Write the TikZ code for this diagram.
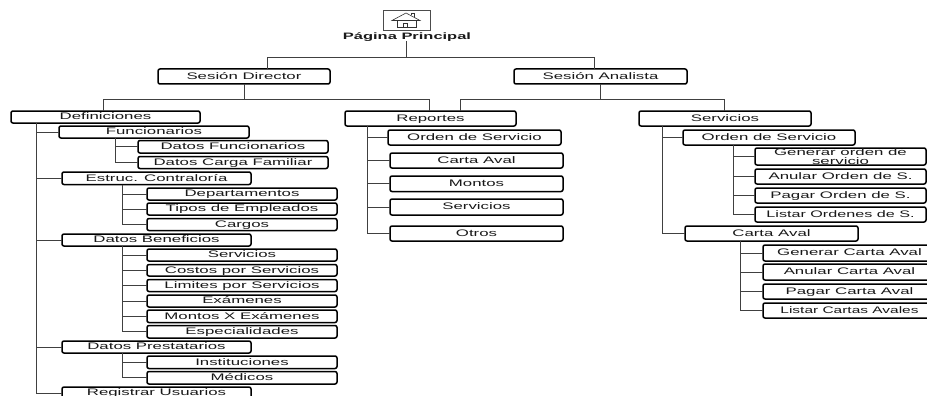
\documentclass[tikz,border=0pt]{standalone}
\usepackage{fontspec}
\setmainfont[FakeStretch=1.77]{Liberation Sans}
\tikzset{
  x=1pt,y=-1pt,
  box/.style={draw=black,line width=1.5pt,rounded corners=2pt,fill=white,inner sep=0pt,outer sep=0pt,
    font=\fontsize{9.5}{9.2}\selectfont,align=center,text=black!90,text height=7pt,text depth=1.5pt},
  twoline/.style={text height=,text depth=},
  link/.style={draw=black!75,line width=0.8pt},
  iconline/.style={draw=black!80,line width=0.6pt}
}
\newcommand{\bx}[7][]{\node[box,#1,minimum width={(#5-#3)*1pt},minimum height={(#6-#4)*1pt}] (#2) at ({(#3+#5)/2},{(#4+#6)/2}) {#7};}
\newcommand{\tw}[3]{\draw[link] ([xshift=#2pt]#1.south west) |- (#3.west);}
\begin{document}
\begin{tikzpicture}
\useasboundingbox (0,0) rectangle (927,396);
\clip (0,0) rectangle (927,396);
% home
\node[draw=black!70,line width=0.6pt,minimum width=47pt,minimum height=20pt,inner sep=0pt,outer sep=0pt] (home) at (406.5,20) {};
\draw[iconline] (392,20.5) -- (406,13) -- (420,20.5) -- cycle;
\draw[iconline] (397,20.5) -- (397,27) -- (416,27) -- (416,20.5);
\draw[iconline] (403,27) -- (403,23.5) -- (407,23.5) -- (407,27);
\draw[iconline] (411,15.5) -- (411,13.5) -- (414,13.5) -- (414,17.5);
\node[font=\fontsize{9.3}{10}\bfseries\selectfont,inner sep=0pt,outer sep=0pt,text=black!90] (ppal) at (407,37) {Página Principal};
\coordinate (hub) at (406.5,57);
% level 1
\bx{sd}{158}{69}{330}{84}{Sesión Director}
\bx{sa}{514}{69}{687}{84}{Sesión Analista}
% level 2
\bx{def}{11}{111}{200}{123}{Definiciones}
\bx{rep}{345}{111}{516}{126}{Reportes}
\bx{ser}{639}{111}{811}{126}{Servicios}
% definiciones
\bx{fun}{59}{126}{249}{138}{Funcionarios}
\bx{df}{138}{140.5}{328}{153}{Datos Funcionarios}
\bx{dc}{138}{156.5}{328}{168.5}{Datos Carga Familiar}
\bx{est}{62}{172}{251}{184.5}{Estruc. Contraloría}
\bx{dep}{147}{188}{337}{200}{Departamentos}
\bx{tip}{147}{203}{337}{215}{Tipos de Empleados}
\bx{car}{147}{218.5}{337}{230.5}{Cargos}
\bx{ben}{62}{234}{251}{246}{Datos Beneficios}
\bx{bs}{147}{249}{337}{261}{Servicios}
\bx{bc}{147}{264.5}{337}{276}{Costos por Servicios}
\bx{bl}{147}{279.5}{337}{291.5}{Limites por Servicios}
\bx{be}{147}{295}{337}{307}{Exámenes}
\bx{bm}{147}{310}{337}{322.5}{Montos X Exámenes}
\bx{bp}{147}{325.5}{337}{338}{Especialidades}
\bx{pre}{62}{341}{251}{353}{Datos Prestatarios}
\bx{ins}{147}{356}{337}{368.5}{Instituciones}
\bx{med}{147}{371.5}{337}{384}{Médicos}
\bx{reg}{62}{387}{251}{399}{Registrar Usuarios}
% reportes
\bx{ro}{388}{130}{561}{145}{Orden de Servicio}
\bx{rc}{390}{153}{563}{168}{Carta Aval}
\bx{rm}{390}{176}{563}{191.5}{Montos}
\bx{rs}{390}{199}{563}{215}{Servicios}
\bx{rt}{390}{226}{563}{241}{Otros}
% servicios
\bx{so}{683}{130}{855}{145}{Orden de Servicio}
\bx[twoline]{og}{755}{148}{926}{165}{Generar orden de\\[-0.4pt]servicio}
\bx{oa}{755}{169}{926}{184}{Anular Orden de S.}
\bx{op}{755}{188}{926}{203}{Pagar Orden de S.}
\bx{ol}{755}{207}{926}{222}{\scalebox{0.96}[1]{Listar Ordenes de S.}}
\bx{sc}{685}{226}{858}{241}{Carta Aval}
\bx{cg}{763}{245}{936}{261}{Generar Carta Aval}
\bx{ca}{763}{264}{936}{280}{Anular Carta Aval}
\bx{cp}{763}{284}{936}{299}{Pagar Carta Aval}
\bx{cl}{763}{303}{936}{318}{\scalebox{0.92}[1]{Listar Cartas Avales}}
% connectors
\draw[link] (ppal.south -| hub) -- (hub);
\draw[link] (hub) -| ([xshift=23pt]sd.north);
\draw[link] (hub) -| ([xshift=-6.5pt]sa.north);
\draw[link] (sd.south) -- (sd.south |- 0,99);
\draw[link] (sd.south |- 0,99) -| ([xshift=-1.7pt]def.north);
\draw[link] (sd.south |- 0,99) -| ([xshift=-1pt]rep.north);
\draw[link] (sa.south) -- (sa.south |- 0,99);
\draw[link] (sa.south |- 0,99) -| ([xshift=30pt]rep.north);
\draw[link] (sa.south |- 0,99) -| ([xshift=-0.7pt]ser.north);
\foreach \c in {fun,est,ben,pre,reg}{\tw{def}{25.5}{\c}}
\foreach \c in {df,dc}{\tw{fun}{56.5}{\c}}
\foreach \c in {dep,tip,car}{\tw{est}{60.5}{\c}}
\foreach \c in {bs,bc,bl,be,bm,bp}{\tw{ben}{60.5}{\c}}
\foreach \c in {ins,med}{\tw{pre}{60.5}{\c}}
\foreach \c in {ro,rc,rm,rs,rt}{\tw{rep}{22.5}{\c}}
\foreach \c in {so,sc}{\tw{ser}{23}{\c}}
\foreach \c in {og,oa,op,ol}{\tw{so}{50}{\c}}
\foreach \c in {cg,ca,cp,cl}{\tw{sc}{55}{\c}}
\end{tikzpicture}
\end{document}
